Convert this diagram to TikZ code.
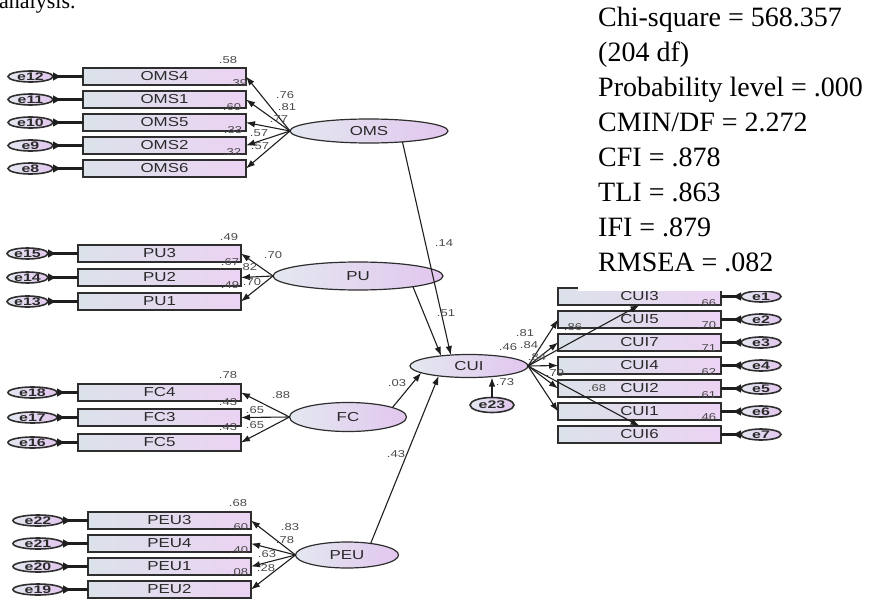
\documentclass[tikz,border=0pt]{standalone}
\usepackage{fontspec}
\setmainfont{Liberation Serif}
\newfontfamily\amosfont[FakeStretch=1.3]{Liberation Sans}
\newfontfamily\errfam[FakeStretch=1.45]{Liberation Sans}
\usepackage{xcolor}
\usepackage{tikz}
\usetikzlibrary{positioning,shapes.geometric,arrows.meta}
\definecolor{boxl}{HTML}{DCE2EA}
\definecolor{boxr}{HTML}{EBD3F3}
\definecolor{latl}{HTML}{E3E8F0}
\definecolor{latr}{HTML}{E2C6EE}
\definecolor{edgegray}{HTML}{2E2E2E}
\definecolor{txtgray}{HTML}{2A2A2A}
\definecolor{numgray}{HTML}{4A4A4A}
\definecolor{lineblack}{HTML}{1E1E1E}

\begin{document}
\begin{tikzpicture}[
    x=1pt, y=-1pt,
    box/.style={rectangle, draw=edgegray, line width=1.6pt, left color=boxl, right color=boxr,
        minimum width=163pt, minimum height=17pt, inner sep=0pt, outer sep=0pt,
        text=txtgray, font=\amosfont\fontsize{13}{13}\selectfont},
    latent/.style={ellipse, draw=edgegray, line width=1.2pt, left color=latl, right color=latr,
        inner sep=0pt, outer sep=0pt, text=txtgray, font=\amosfont\fontsize{13}{13}\selectfont},
    err/.style={latent, line width=1.6pt, minimum width=45pt, minimum height=11pt,
        font=\errfam\bfseries\fontsize{11}{11}\selectfont},
    coef/.style={inner sep=0pt, text=numgray, font=\amosfont\fontsize{10}{10}\selectfont},
    arr/.style={-{Latex[length=9pt,width=6.5pt]}, draw=lineblack, line width=1.1pt},
    errarr/.style={{Latex[reversed,length=9pt,width=9pt]}-, draw=lineblack, line width=2.6pt}
]
\useasboundingbox (0,0) rectangle (882,599);
\node[anchor=base west, inner sep=0pt, font=\fontsize{22}{22}\selectfont] (analysis) at (-1,9) {analysis.};

\node[box, anchor=north west] (OMS4) at (83,68) {OMS4};
\node[box, below=6pt of OMS4] (OMS1) {OMS1};
\node[box, below=6pt of OMS1] (OMS5) {OMS5};
\node[box, below=6pt of OMS5] (OMS2) {OMS2};
\node[box, below=6pt of OMS2] (OMS6) {OMS6};
\node[err, left=30pt of OMS4] (e12) {e12};
\node[err, left=30pt of OMS1] (e11) {e11};
\node[err, left=30pt of OMS5] (e10) {e10};
\node[err, left=30pt of OMS2] (e9) {e9};
\node[err, left=30pt of OMS6] (e8) {e8};
\node[latent, minimum width=158pt, minimum height=24pt] (OMS) at (369,131) {OMS};

\node[box, anchor=north west] (PU3) at (78,245) {PU3};
\node[box, below=7pt of PU3] (PU2) {PU2};
\node[box, below=7pt of PU2] (PU1) {PU1};
\node[err, minimum width=41pt, left=30pt of PU3] (e15) {e15};
\node[err, minimum width=41pt, left=30pt of PU2] (e14) {e14};
\node[err, minimum width=41pt, left=30pt of PU1] (e13) {e13};
\node[latent, minimum width=170pt, minimum height=28pt] (PU) at (358,276) {PU};

\node[box, anchor=north west] (FC4) at (78,384) {FC4};
\node[box, below=8pt of FC4] (FC3) {FC3};
\node[box, below=8pt of FC3] (FC5) {FC5};
\node[err, minimum width=49pt, left=21pt of FC4] (e18) {e18};
\node[err, minimum width=49pt, left=21pt of FC3] (e17) {e17};
\node[err, minimum width=49pt, left=21pt of FC5] (e16) {e16};
\node[latent, minimum width=117pt, minimum height=29pt] (FC) at (348,417) {FC};

\node[box, anchor=north west] (PEU3) at (88,512) {PEU3};
\node[box, below=6pt of PEU3] (PEU4) {PEU4};
\node[box, below=6pt of PEU4] (PEU1) {PEU1};
\node[box, below=6pt of PEU1] (PEU2) {PEU2};
\node[err, minimum width=50pt, left=25pt of PEU3] (e22) {e22};
\node[err, minimum width=50pt, left=25pt of PEU4] (e21) {e21};
\node[err, minimum width=50pt, left=25pt of PEU1] (e20) {e20};
\node[err, minimum width=50pt, left=25pt of PEU2] (e19) {e19};
\node[latent, minimum width=103pt, minimum height=26pt] (PEU) at (347,555) {PEU};

\node[latent, minimum width=118pt, minimum height=23pt] (CUI) at (469,366) {CUI};
\node[err, minimum width=44pt, minimum height=15pt] (e23) at (492,405) {e23};

\node[box, anchor=north west] (CUI3) at (558,288) {CUI3};
\node[box, below=6pt of CUI3] (CUI5) {CUI5};
\node[box, below=6pt of CUI5] (CUI7) {CUI7};
\node[box, below=6pt of CUI7] (CUI4) {CUI4};
\node[box, below=6pt of CUI4] (CUI2) {CUI2};
\node[box, below=6pt of CUI2] (CUI1) {CUI1};
\node[box, below=6pt of CUI1] (CUI6) {CUI6};
\node[err, minimum width=40pt, right=20pt of CUI3] (e1) {e1};
\node[err, minimum width=40pt, right=20pt of CUI5] (e2) {e2};
\node[err, minimum width=40pt, right=20pt of CUI7] (e3) {e3};
\node[err, minimum width=40pt, right=20pt of CUI4] (e4) {e4};
\node[err, minimum width=40pt, right=20pt of CUI2] (e5) {e5};
\node[err, minimum width=40pt, right=20pt of CUI1] (e6) {e6};
\node[err, minimum width=40pt, right=20pt of CUI6] (e7) {e7};

\draw[errarr] (e12) -- (OMS4);
\draw[errarr] (e11) -- (OMS1);
\draw[errarr] (e10) -- (OMS5);
\draw[errarr] (e9) -- (OMS2);
\draw[errarr] (e8) -- (OMS6);
\draw[errarr] (e15) -- (PU3);
\draw[errarr] (e14) -- (PU2);
\draw[errarr] (e13) -- (PU1);
\draw[errarr] (e18) -- (FC4);
\draw[errarr] (e17) -- (FC3);
\draw[errarr] (e16) -- (FC5);
\draw[errarr] (e22) -- (PEU3);
\draw[errarr] (e21) -- (PEU4);
\draw[errarr] (e20) -- (PEU1);
\draw[errarr] (e19) -- (PEU2);
\draw[errarr] (e1) -- (CUI3);
\draw[errarr] (e2) -- (CUI5);
\draw[errarr] (e3) -- (CUI7);
\draw[errarr] (e4) -- (CUI4);
\draw[errarr] (e5) -- (CUI2);
\draw[errarr] (e6) -- (CUI1);
\draw[errarr] (e7) -- (CUI6);

\draw[arr] (OMS.west) -- (OMS4.east);
\draw[arr] (OMS.west) -- (OMS1.east);
\draw[arr] (OMS.west) -- (OMS5.east);
\draw[arr] (OMS.west) -- (OMS2.east);
\draw[arr] (OMS.west) -- (OMS6.east);
\draw[arr] (PU.west) -- (PU3.east);
\draw[arr] (PU.west) -- (PU2.east);
\draw[arr] (PU.west) -- (PU1.east);
\draw[arr] (FC.west) -- (FC4.east);
\draw[arr] (FC.west) -- (FC3.east);
\draw[arr] (FC.west) -- (FC5.east);
\draw[arr] (PEU.west) -- (PEU3.east);
\draw[arr] (PEU.west) -- (PEU4.east);
\draw[arr] (PEU.west) -- (PEU1.east);
\draw[arr] (PEU.west) -- (PEU2.east);
\draw[arr] (CUI.east) -- (CUI3.south);
\draw[arr] (CUI.east) -- (CUI5.west);
\draw[arr] (CUI.east) -- (CUI7.west);
\draw[arr] (CUI.east) -- (CUI4.west);
\draw[arr] (CUI.east) -- (CUI2.west);
\draw[arr] (CUI.east) -- (CUI1.west);
\draw[arr] (CUI.east) -- (CUI6.north);

\draw[arr] (OMS.-18) -- (CUI.149);
\draw[arr] (PU.-11) -- (CUI.160);
\draw[arr] (FC.12) -- (CUI.188);
\draw[arr] (PEU.26) -- (CUI.198);
\draw[arr] (e23.north) -- (e23.north |- CUI.south);

\node[coef] (rOMS4) at (228,60) {.58};
\node[coef] (rOMS1) at (238,83) {.39};
\node[coef] (rOMS5) at (232,107) {.60};
\node[coef] (rOMS2) at (233,130) {.33};
\node[coef] (rOMS6) at (232,152) {.32};
\node[coef] (wOMS4) at (285,95) {.76};
\node[coef] (wOMS1) at (287,107) {.81};
\node[coef] (wOMS5) at (279,119) {.77};
\node[coef] (wOMS2) at (259,133) {.57};
\node[coef] (wOMS6) at (260,146) {.57};

\node[coef] (rPU3) at (229,237) {.49};
\node[coef] (rPU2) at (230,262) {.67};
\node[coef] (rPU1) at (230,285) {.49};
\node[coef] (wPU3) at (273,255) {.70};
\node[coef] (wPU2) at (248,267) {.82};
\node[coef] (wPU1) at (252,282) {.70};

\node[coef] (rFC4) at (228,375) {.78};
\node[coef] (rFC3) at (228,402) {.43};
\node[coef] (rFC5) at (228,427) {.43};
\node[coef] (wFC4) at (281,395) {.88};
\node[coef] (wFC3) at (255,410) {.65};
\node[coef] (wFC5) at (255,425) {.65};

\node[coef] (rPEU3) at (238,503) {.68};
\node[coef] (rPEU4) at (239,527) {.60};
\node[coef] (rPEU1) at (239,550) {.40};
\node[coef] (rPEU2) at (239,572) {.08};
\node[coef] (wPEU3) at (290,527) {.83};
\node[coef] (wPEU4) at (285,540) {.78};
\node[coef] (wPEU1) at (267,554) {.63};
\node[coef] (wPEU2) at (266,568) {.28};

\node[coef] (rCUI3) at (707,303) {.66};
\node[coef] (rCUI5) at (707,325) {.70};
\node[coef] (rCUI7) at (707,348) {.71};
\node[coef] (rCUI4) at (707,372) {.62};
\node[coef] (rCUI2) at (707,395) {.61};
\node[coef] (rCUI1) at (707,417) {.46};
\node[coef] (rCUI) at (508,347) {.46};
\node[coef] (wCUI3) at (525,333) {.81};
\node[coef] (wCUI5) at (529,345) {.84};
\node[coef] (wCUI7) at (537,357) {.84};
\node[coef] (wCUI4) at (555,373) {.79};
\node[coef] (wCUI6) at (573,327) {.86};
\node[coef] (wCUI1) at (597,388) {.68};
\node[coef] (we23) at (505,382) {.73};

\node[coef] (bOMS) at (444,243) {.14};
\node[coef] (bPU) at (446,313) {.51};
\node[coef] (bFC) at (397,383) {.03};
\node[coef] (bPEU) at (396,454) {.43};

\fill[white] (578,0) rectangle (882,291);
\node[anchor=north west, align=left, inner sep=0pt, font=\fontsize{28}{35}\selectfont] (fitstats) at (598,7)
    {Chi-square = 568.357\\(204 df)\\Probability level = .000\\CMIN/DF = 2.272\\CFI = .878\\TLI = .863\\IFI = .879\\RMSEA = .082};
\end{tikzpicture}
\end{document}
